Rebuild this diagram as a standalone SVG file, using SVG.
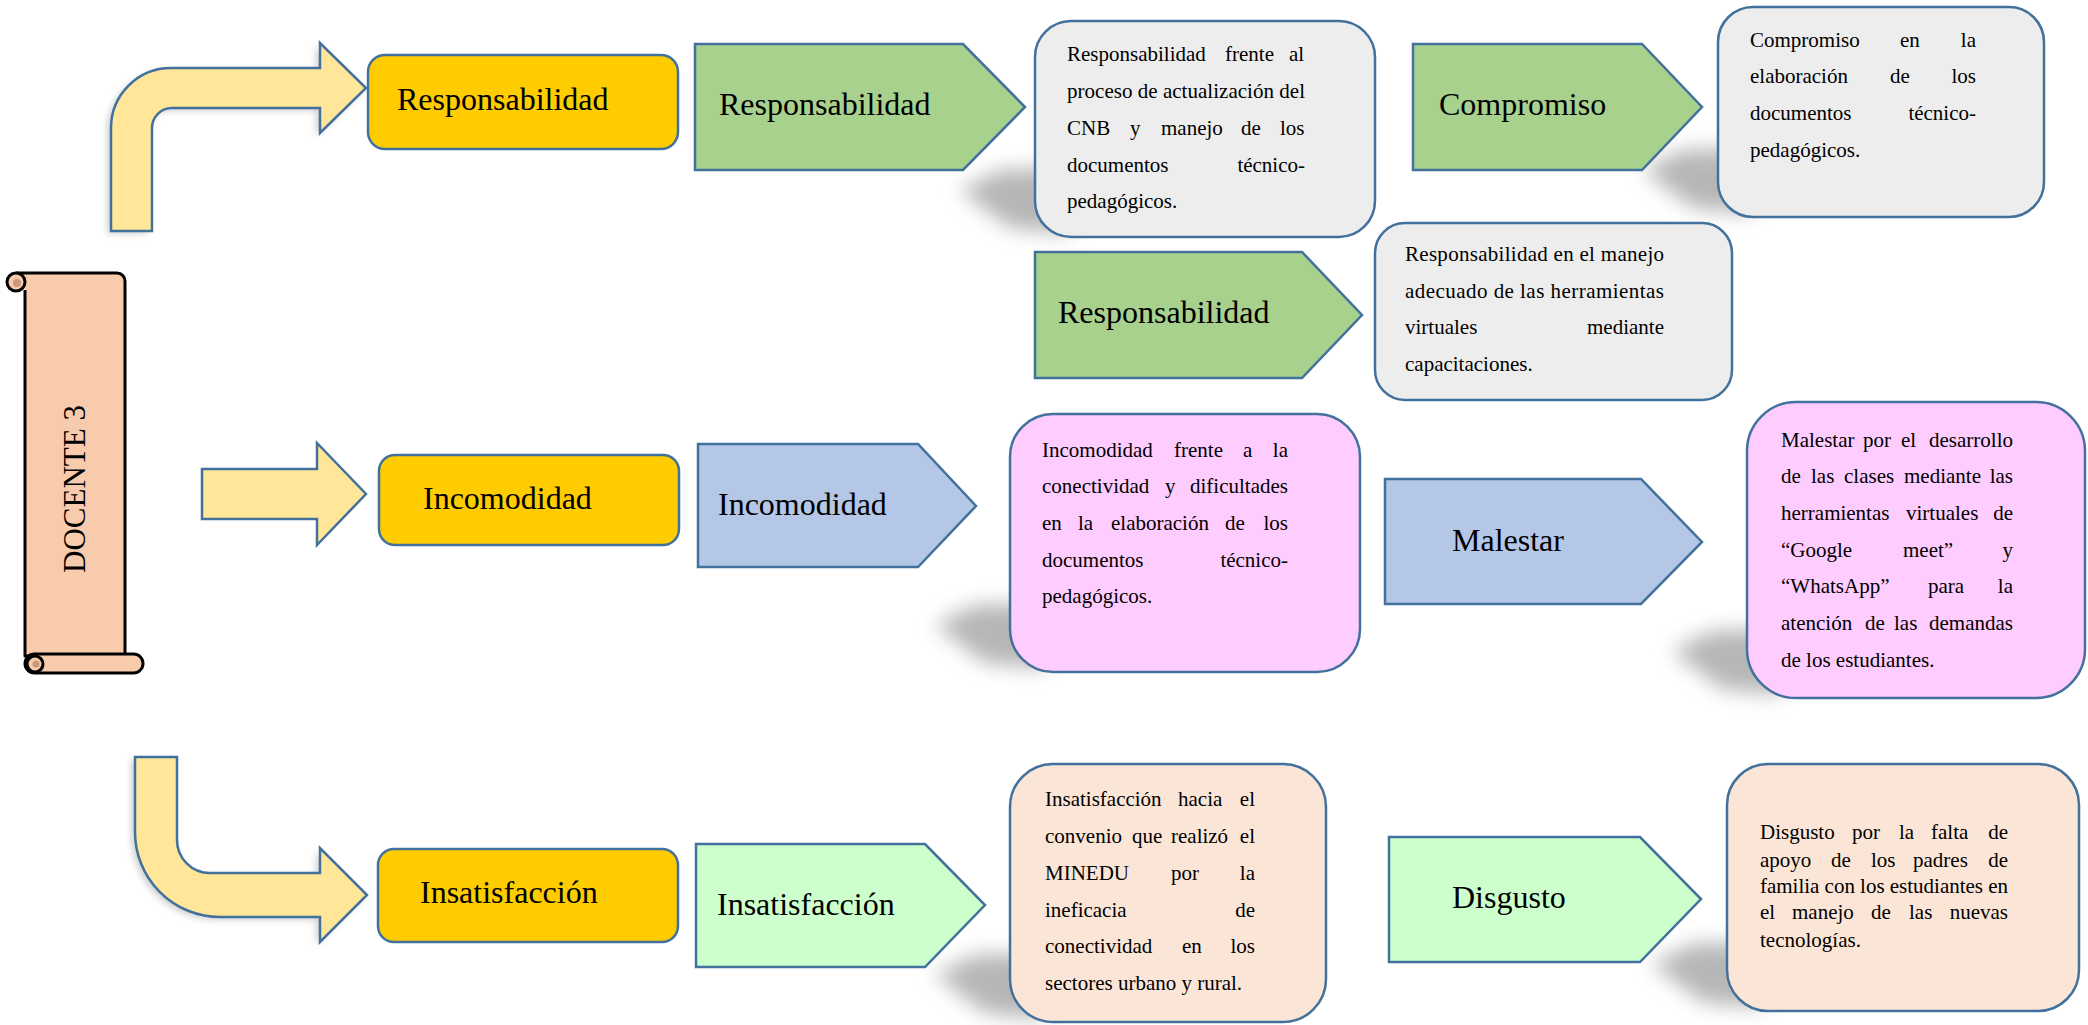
<svg xmlns="http://www.w3.org/2000/svg" width="2088" height="1025" viewBox="0 0 2088 1025">
<defs>
<style>
.ln{stroke:#41719C;stroke-width:2.5;stroke-linejoin:miter}
.arr{fill:#FFE699}
.yel{fill:#FFCC00}
.grn{fill:#A9D18E}
.blu{fill:#B4C7E7}
.lgr{fill:#CCFFCC}
.gry{fill:#EDEDED}
.pnk{fill:#FFCCFF}
.pch{fill:#FBE5D6}
.sh{fill:#8a8a8a;opacity:.62;filter:url(#blur)}
.ash{fill:#9a9a9a;opacity:.45;filter:url(#blur2)}
text{font-family:"Liberation Serif","Times New Roman",serif;fill:#000}
.big{font-size:32px}
.sm{font-size:21px}
.end{text-anchor:end}
.sc{fill:#F8CBAD;stroke:#000;stroke-width:3;stroke-linejoin:round}
.scd{fill:#C9977A}
</style>
<filter id="blur" x="-60%" y="-60%" width="220%" height="220%"><feGaussianBlur stdDeviation="10"/></filter>
<filter id="blur2" x="-20%" y="-20%" width="140%" height="140%"><feGaussianBlur stdDeviation="3"/></filter>
</defs>
<rect width="2088" height="1025" fill="#fff"/>

<!-- shadows -->
<g id="shadows">
<polygon class="sh" points="960,190 1000,170 1070,168 1070,234 1010,228"/>
<polygon class="sh" points="1643,170 1683,150 1753,148 1753,214 1693,208"/>
<polygon class="sh" points="935,625 975,605 1045,603 1045,669 985,663"/>
<polygon class="sh" points="1672,651 1712,631 1782,629 1782,695 1722,689"/>
<polygon class="sh" points="935,975 975,955 1045,953 1045,1019 985,1013"/>
<polygon class="sh" points="1652,964 1692,944 1762,942 1762,1008 1702,1002"/>
</g>

<!-- connectors -->
<g id="connectors">
<path class="ash" d="M107,234 V128 A60,60 0 0 1 167,71 H316 V46 L362,91 L316,136 V111 H168 A20,20 0 0 0 148,131 V234 Z"/>
<path class="arr ln" d="M111,231 V128 A60,60 0 0 1 171,68 H320 V43 L366,88 L320,133 V108 H172 A20,20 0 0 0 152,128 V231 Z"/>
<path class="arr ln" d="M202,469 H317 V443 L366,494 L317,545 V519 H202 Z"/>
<path class="ash" d="M131,760 H173 V843 A33,33 0 0 0 206,876 H316 V851 L363,898 L316,945 V920 H216 A85,85 0 0 1 131,835 Z"/>
<path class="arr ln" d="M135,757 H177 V840 A33,33 0 0 0 210,873 H320 V848 L367,895 L320,942 V917 H220 A85,85 0 0 1 135,832 Z"/>
</g>

<!-- scroll -->
<g id="docente3">
<path class="sc" d="M16,273 H117 A8,8 0 0 1 125,281 V656 H25 V290"/>
<circle class="sc" cx="16" cy="282" r="9"/>
<circle class="scd" cx="17" cy="283" r="4"/>
<rect class="sc" x="25" y="654" width="118" height="19" rx="9.5"/>
<circle class="sc" cx="35" cy="664" r="8"/>
<circle class="scd" cx="36" cy="664" r="3.5"/>
<text x="0" y="0" transform="translate(85,489) rotate(-90)" text-anchor="middle" style="font-size:31px">DOCENTE 3</text>
</g>

<!-- row 1 -->
<g id="yel1"><rect class="yel ln" x="368" y="55" width="310" height="94" rx="17"/><text class="big" x="397" y="110">Responsabilidad</text></g>
<g id="grn1"><polygon class="grn ln" points="695,44 963,44 1025,107 963,170 695,170"/><text class="big" x="719" y="115">Responsabilidad</text></g>
<g id="gry1"><rect class="gry ln" x="1035" y="21" width="340" height="216" rx="36"/>
<text class="sm"><tspan x="1067" y="61">Responsabilidad</tspan><tspan x="1225" y="61">frente</tspan><tspan x="1289" y="61">al</tspan></text>
<text class="sm" x="1067" y="98" textLength="238" lengthAdjust="spacing">proceso de actualización del</text>
<text class="sm"><tspan x="1067" y="135">CNB</tspan><tspan x="1130" y="135">y</tspan><tspan x="1161" y="135">manejo</tspan><tspan x="1241" y="135">de</tspan><tspan x="1280" y="135">los</tspan></text>
<text class="sm" x="1067" y="172">documentos</text><text class="sm end" x="1305" y="172">técnico-</text>
<text class="sm" x="1067" y="208">pedagógicos.</text>
</g>
<g id="grn2"><polygon class="grn ln" points="1413,44 1642,44 1702,107 1642,170 1413,170"/><text class="big" x="1439" y="115">Compromiso</text></g>
<g id="gry2"><rect class="gry ln" x="1718" y="7" width="326" height="210" rx="35"/>
<text class="sm"><tspan x="1750" y="47">Compromiso</tspan><tspan x="1900" y="47">en</tspan></text><text class="sm end" x="1976" y="47">la</text>
<text class="sm"><tspan x="1750" y="83">elaboración</tspan><tspan x="1890" y="83">de</tspan></text><text class="sm end" x="1976" y="83">los</text>
<text class="sm" x="1750" y="120">documentos</text><text class="sm end" x="1976" y="120">técnico-</text>
<text class="sm" x="1750" y="157">pedagógicos.</text>
</g>

<!-- row 1b -->
<g id="grn3"><polygon class="grn ln" points="1035,252 1302,252 1362,315 1302,378 1035,378"/><text class="big" x="1058" y="323">Responsabilidad</text></g>
<g id="gry3"><rect class="gry ln" x="1375" y="223" width="357" height="177" rx="30"/>
<text class="sm" x="1405" y="261" textLength="259" lengthAdjust="spacing">Responsabilidad en el manejo</text>
<text class="sm" x="1405" y="298" textLength="259" lengthAdjust="spacing">adecuado de las herramientas</text>
<text class="sm" x="1405" y="334">virtuales</text><text class="sm end" x="1664" y="334">mediante</text>
<text class="sm" x="1405" y="371">capacitaciones.</text>
</g>

<!-- row 2 -->
<g id="yel2"><rect class="yel ln" x="379" y="455" width="300" height="90" rx="16"/><text class="big" x="423" y="509">Incomodidad</text></g>
<g id="blu1"><polygon class="blu ln" points="698,444 918,444 976,506 918,567 698,567"/><text class="big" x="718" y="515">Incomodidad</text></g>
<g id="pnk1"><rect class="pnk ln" x="1010" y="414" width="350" height="258" rx="43"/>
<text class="sm"><tspan x="1042" y="457">Incomodidad</tspan><tspan x="1174" y="457">frente</tspan><tspan x="1243" y="457">a</tspan></text><text class="sm end" x="1288" y="457">la</text>
<text class="sm"><tspan x="1042" y="493">conectividad</tspan><tspan x="1165" y="493">y</tspan></text><text class="sm end" x="1288" y="493">dificultades</text>
<text class="sm"><tspan x="1042" y="530">en</tspan><tspan x="1078" y="530">la</tspan><tspan x="1111" y="530">elaboración</tspan><tspan x="1225" y="530">de</tspan></text><text class="sm end" x="1288" y="530">los</text>
<text class="sm" x="1042" y="567">documentos</text><text class="sm end" x="1288" y="567">técnico-</text>
<text class="sm" x="1042" y="603">pedagógicos.</text>
</g>
<g id="blu2"><polygon class="blu ln" points="1385,479 1641,479 1702,542 1641,604 1385,604"/><text class="big" x="1452" y="551">Malestar</text></g>
<g id="pnk2"><rect class="pnk ln" x="1747" y="402" width="338" height="296" rx="49"/>
<text class="sm"><tspan x="1781" y="447">Malestar</tspan><tspan x="1863" y="447">por</tspan><tspan x="1901" y="447">el</tspan></text><text class="sm end" x="2013" y="447">desarrollo</text>
<text class="sm"><tspan x="1781" y="483">de</tspan><tspan x="1811" y="483">las</tspan><tspan x="1844" y="483">clases</tspan><tspan x="1904" y="483">mediante</tspan></text><text class="sm end" x="2013" y="483">las</text>
<text class="sm"><tspan x="1781" y="520">herramientas</tspan><tspan x="1906" y="520">virtuales</tspan></text><text class="sm end" x="2013" y="520">de</text>
<text class="sm"><tspan x="1781" y="557">“Google</tspan><tspan x="1903" y="557">meet”</tspan></text><text class="sm end" x="2013" y="557">y</text>
<text class="sm"><tspan x="1781" y="593">“WhatsApp”</tspan><tspan x="1928" y="593">para</tspan></text><text class="sm end" x="2013" y="593">la</text>
<text class="sm"><tspan x="1781" y="630">atención</tspan><tspan x="1865" y="630">de</tspan><tspan x="1894" y="630">las</tspan></text><text class="sm end" x="2013" y="630">demandas</text>
<text class="sm" x="1781" y="667">de los estudiantes.</text>
</g>

<!-- row 3 -->
<g id="yel3"><rect class="yel ln" x="378" y="849" width="300" height="93" rx="16"/><text class="big" x="420" y="903">Insatisfacción</text></g>
<g id="lgr1"><polygon class="lgr ln" points="696,844 925,844 985,905 925,967 696,967"/><text class="big" x="717" y="915">Insatisfacción</text></g>
<g id="pch1"><rect class="pch ln" x="1010" y="764" width="316" height="258" rx="43"/>
<text class="sm"><tspan x="1045" y="806">Insatisfacción</tspan><tspan x="1178" y="806">hacia</tspan></text><text class="sm end" x="1255" y="806">el</text>
<text class="sm"><tspan x="1045" y="843">convenio</tspan><tspan x="1132" y="843">que</tspan><tspan x="1171" y="843">realizó</tspan></text><text class="sm end" x="1255" y="843">el</text>
<text class="sm"><tspan x="1045" y="880">MINEDU</tspan><tspan x="1171" y="880">por</tspan></text><text class="sm end" x="1255" y="880">la</text>
<text class="sm" x="1045" y="917">ineficacia</text><text class="sm end" x="1255" y="917">de</text>
<text class="sm"><tspan x="1045" y="953">conectividad</tspan><tspan x="1182" y="953">en</tspan></text><text class="sm end" x="1255" y="953">los</text>
<text class="sm" x="1045" y="990">sectores urbano y rural.</text>
</g>
<g id="lgr2"><polygon class="lgr ln" points="1389,837 1640,837 1701,899 1640,962 1389,962"/><text class="big" x="1452" y="908">Disgusto</text></g>
<g id="pch2"><rect class="pch ln" x="1727" y="764" width="352" height="247" rx="41"/>
<text class="sm"><tspan x="1760" y="839">Disgusto</tspan><tspan x="1852" y="839">por</tspan><tspan x="1899" y="839">la</tspan><tspan x="1931" y="839">falta</tspan></text><text class="sm end" x="2008" y="839">de</text>
<text class="sm"><tspan x="1760" y="867">apoyo</tspan><tspan x="1831" y="867">de</tspan><tspan x="1871" y="867">los</tspan><tspan x="1913" y="867">padres</tspan></text><text class="sm end" x="2008" y="867">de</text>
<text class="sm" x="1760" y="893" textLength="248" lengthAdjust="spacing">familia con los estudiantes en</text>
<text class="sm"><tspan x="1760" y="919">el</tspan><tspan x="1792" y="919">manejo</tspan><tspan x="1871" y="919">de</tspan><tspan x="1909" y="919">las</tspan></text><text class="sm end" x="2008" y="919">nuevas</text>
<text class="sm" x="1760" y="947">tecnologías.</text>
</g>
</svg>
